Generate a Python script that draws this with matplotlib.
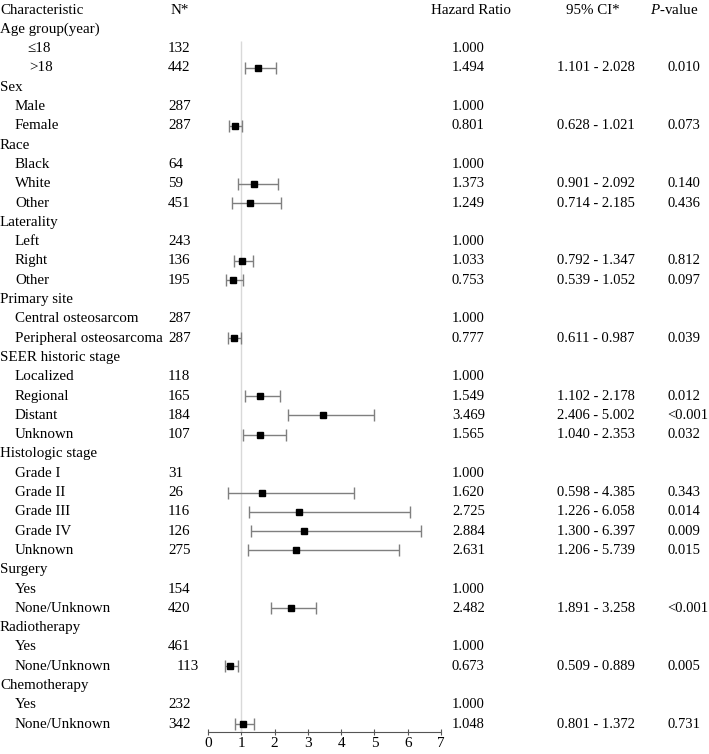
import numpy as np
import matplotlib
matplotlib.use("Agg")
import matplotlib.pyplot as plt
import matplotlib.transforms as mtransforms

plt.rcParams['font.family'] = ['Liberation Serif', 'DejaVu Serif']
plt.rcParams['font.size'] = 10.8
plt.rcParams['mathtext.fontset'] = 'custom'
plt.rcParams['mathtext.rm'] = 'Liberation Serif'
plt.rcParams['mathtext.it'] = 'Liberation Serif:italic'

# rows below the header line
labels = ["Age group(year)", "≤18", ">18", "Sex", "Male", "Female", "Race", "Black", "White", "Other",
          "Laterality", "Left", "Right", "Other", "Primary site", "Central osteosarcom",
          "Peripheral osteosarcoma", "SEER historic stage", "Localized", "Regional", "Distant", "Unknown",
          "Histologic stage", "Grade I", "Grade II", "Grade III", "Grade IV", "Unknown",
          "Surgery", "Yes", "None/Unknown", "Radiotherapy", "Yes", "None/Unknown",
          "Chemotherapy", "Yes", "None/Unknown"]
groups = ["Age group(year)", "Sex", "Race", "Laterality", "Primary site", "SEER historic stage",
          "Histologic stage", "Surgery", "Radiotherapy", "Chemotherapy"]
n_cases = [None, 132, 442, None, 287, 287, None, 64, 59, 451, None, 243, 136, 195, None, 287, 287,
           None, 118, 165, 184, 107, None, 31, 26, 116, 126, 275, None, 154, 420, None, 461, 113,
           None, 232, 342]
hr = [None, 1.000, 1.494, None, 1.000, 0.801, None, 1.000, 1.373, 1.249, None, 1.000, 1.033, 0.753,
      None, 1.000, 0.777, None, 1.000, 1.549, 3.469, 1.565, None, 1.000, 1.620, 2.725, 2.884, 2.631,
      None, 1.000, 2.482, None, 1.000, 0.673, None, 1.000, 1.048]
ci_lo = [None, None, 1.101, None, None, 0.628, None, None, 0.901, 0.714, None, None, 0.792, 0.539,
         None, None, 0.611, None, None, 1.102, 2.406, 1.040, None, None, 0.598, 1.226, 1.300, 1.206,
         None, None, 1.891, None, None, 0.509, None, None, 0.801]
ci_hi = [None, None, 2.028, None, None, 1.021, None, None, 2.092, 2.185, None, None, 1.347, 1.052,
         None, None, 0.987, None, None, 2.178, 5.002, 2.353, None, None, 4.385, 6.058, 6.397, 5.739,
         None, None, 3.258, None, None, 0.889, None, None, 1.372]
pvals = [None, None, "0.010", None, None, "0.073", None, None, "0.140", "0.436", None, None, "0.812",
         "0.097", None, None, "0.039", None, None, "0.012", "<0.001", "0.032", None, None, "0.343",
         "0.014", "0.009", "0.015", None, None, "<0.001", None, None, "0.005", None, None, "0.731"]
xticks = [0, 1, 2, 3, 4, 5, 6, 7]

W, H = 709, 754
fig = plt.figure(figsize=(W / 100, H / 100), dpi=100)
ax = fig.add_axes([208 / W, (H - 732) / H, 233 / W, 732 / H])

row0_px, row_px = 10, 19.3
ax.set_xlim(0, 7)
ax.set_ylim((732 - row0_px) / row_px, -row0_px / row_px)

for s in ['top', 'right', 'left']:
    ax.spines[s].set_visible(False)
ax.spines['bottom'].set_color('#555555')
ax.set_yticks([])
ax.set_xticks(xticks)
ax.tick_params(axis='x', direction='inout', length=5, color='#555555', pad=1, labelsize=11)

ax.vlines(1, 1.6, ax.get_ylim()[0], color='#d9d9d9', lw=1)

ys = np.arange(1, len(labels) + 1)
for y, h, lo, hi in zip(ys, hr, ci_lo, ci_hi):
    if lo is None:
        continue
    ax.errorbar(h, y, xerr=[[h - lo], [hi - h]], fmt='none', ecolor='#7f7f7f',
                elinewidth=1, capsize=4, capthick=1)
    ax.plot(h, y, 's', color='black', ms=5)

tr = mtransforms.blended_transform_factory(fig.transFigure, ax.transData)


def put(px, y, s, **kw):
    ax.text(px / W, y, s, transform=tr, va='center', **kw)


# header
put(0, 0, "Characteristic")
put(171, 0, "N*")
put(471, 0, "Hazard Ratio", ha='center')
put(593, 0, "95% CI*", ha='center')
put(650, 0, r"$\mathit{P}$-value")

for y, lab, n, h, lo, hi, p in zip(ys, labels, n_cases, hr, ci_lo, ci_hi, pvals):
    if lab in groups:
        put(0, y, lab)
    elif lab == "≤18":
        put(27, y, lab)
    elif lab == ">18":
        put(29, y, lab)
    else:
        put(15, y, lab)
    if n is not None:
        put(177 if n == 113 else 168, y, str(n))
    if h is not None:
        put(452, y, "%.3f" % h, fontsize=10.5)
    if lo is not None:
        put(557, y, "%.3f - %.3f" % (lo, hi), fontsize=10.5)
    if p is not None:
        put(667, y, p, fontsize=10.5)

fig.savefig("out.png", dpi=100)
